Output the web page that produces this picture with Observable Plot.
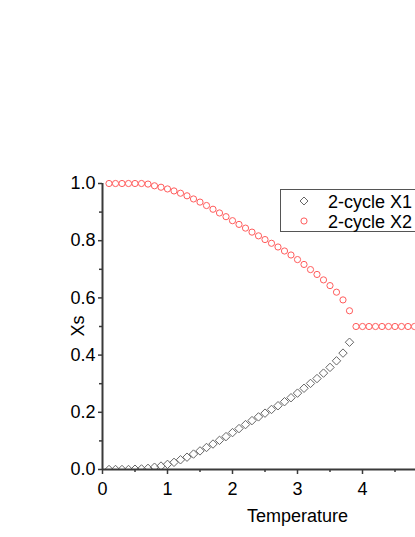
<!DOCTYPE html>
<html><head><meta charset="utf-8">
<script src="https://cdn.jsdelivr.net/npm/d3@7"></script>
<script src="https://cdn.jsdelivr.net/npm/@observablehq/plot@0.6"></script>
<style>
html,body{margin:0;padding:0;overflow:hidden;background:#fff;}
#wrap{position:relative;width:415px;height:537px;overflow:hidden;font-family:"Liberation Sans",Arial,sans-serif;}
#wrap svg{position:absolute;left:0;top:0;}
</style></head><body><div id="wrap"></div>
<script>
const temperature = [0.1,0.2,0.3,0.4,0.5,0.6,0.7,0.8,0.9,1.0,1.1,1.2,1.3,1.4,1.5,1.6,1.7,1.8,1.9,2.0,2.1,2.2,2.3,2.4,2.5,2.6,2.7,2.8,2.9,3.0,3.1,3.2,3.3,3.4,3.5,3.6,3.7,3.8,3.9,4.0,4.1,4.2,4.3,4.4,4.5,4.6,4.7,4.8];
const x1 = [0.000,0.000,0.000,0.000,0.001,0.002,0.004,0.008,0.012,0.018,0.025,0.034,0.043,0.054,0.065,0.077,0.089,0.102,0.115,0.129,0.143,0.157,0.171,0.184,0.197,0.210,0.223,0.237,0.251,0.267,0.284,0.301,0.318,0.337,0.357,0.380,0.407,0.445];
const x2 = [1.000,1.000,1.000,1.000,1.000,1.000,0.998,0.992,0.987,0.981,0.974,0.966,0.957,0.946,0.935,0.923,0.910,0.897,0.884,0.870,0.857,0.844,0.830,0.817,0.804,0.791,0.778,0.764,0.750,0.734,0.717,0.699,0.682,0.663,0.643,0.620,0.593,0.555,0.5,0.5,0.5,0.5,0.5,0.5,0.5,0.5,0.5,0.5];
const xTicks = [0,1,2,3,4];
const xMinor = [0.5,1.5,2.5,3.5,4.5];
const yTicks = [0,0.2,0.4,0.6,0.8,1.0];
const yMinor = [0.1,0.3,0.5,0.7,0.9];
const seriesNames = ["2-cycle X1","2-cycle X2"];
const xTitle = "Temperature";
const yTitle = "Xs";
const xDomain = [0,6];
const yDomain = [0,1];

const d1 = x1.map((v,i)=>({t:temperature[i], v}));
const d2 = x2.map((v,i)=>({t:temperature[i], v}));
const axisColor = "#3a3a3a";
const c1 = "#666666", c2 = "#ff5c5c";

const plot = Plot.plot({
  width:415, height:537, marginLeft:102, marginRight:0, marginTop:183, marginBottom:68,
  style:{fontFamily:'"Liberation Sans",Arial,sans-serif', fontSize:"18px", color:"#000", background:"transparent"},
  x:{domain:xDomain, range:[102,492]},
  y:{domain:yDomain, range:[469,183]},
  marks:[
    Plot.dot(d1,{x:"t",y:"v",symbol:"diamond2",r:3.8,stroke:c1,fill:"none",strokeWidth:1,clip:true}),
    Plot.dot(d2,{x:"t",y:"v",symbol:"circle",r:3.1,stroke:c2,fill:"none",strokeWidth:1}),
    Plot.ruleY([0],{stroke:axisColor,strokeWidth:2}),
    Plot.ruleX([0],{stroke:axisColor,strokeWidth:2}),
    Plot.axisX({ticks:xTicks, tickSize:5, tickPadding:8, tickFormat:d=>String(d), label:null, stroke:axisColor, strokeWidth:1.5, fontSize:18}),
    Plot.axisX({ticks:xMinor, tickSize:3, tickFormat:()=>"", label:null, stroke:axisColor, strokeWidth:1.5}),
    Plot.axisY({ticks:yTicks, tickSize:4, tickPadding:3, tickFormat:d3.format(".1f"), label:null, stroke:axisColor, strokeWidth:1.5, fontSize:18}),
    Plot.axisY({ticks:yMinor, tickSize:3, tickFormat:()=>"", label:null, stroke:axisColor, strokeWidth:1.5}),
    Plot.text([yTitle],{text:d=>d, frameAnchor:"left", dx:-24, dy:10, rotate:-90, fontSize:18, fill:"#000"}),
    Plot.text([xTitle],{text:d=>d, x:()=>(xDomain[0]+xDomain[1])/2, frameAnchor:"bottom", lineAnchor:"top", dy:40, fontSize:18, fill:"#000"})
  ]
});
document.getElementById("wrap").appendChild(plot);

// legend
const leg = d3.select("#wrap").append("svg")
  .attr("width",415).attr("height",537)
  .style("pointer-events","none");
leg.append("rect").attr("x",280.5).attr("y",189.5).attr("width",200).attr("height",42)
  .attr("fill","#fff").attr("stroke","#555").attr("stroke-width",1);
const rows = [
  {name:seriesNames[0], sym:d3.symbolDiamond2, size:Math.PI*3.6*3.6, color:c1},
  {name:seriesNames[1], sym:d3.symbolCircle, size:Math.PI*3.1*3.1, color:c2}
];
rows.forEach((r,i)=>{
  const cy = 201 + i*20;
  leg.append("path").attr("d", d3.symbol(r.sym, r.size)())
    .attr("transform",`translate(304,${cy})`)
    .attr("fill","none").attr("stroke",r.color).attr("stroke-width",1);
  leg.append("text").attr("x",328).attr("y",cy+6.5)
    .attr("font-family",'"Liberation Sans",Arial,sans-serif').attr("font-size",18)
    .attr("fill","#000").text(r.name);
});
</script>
</body></html>
